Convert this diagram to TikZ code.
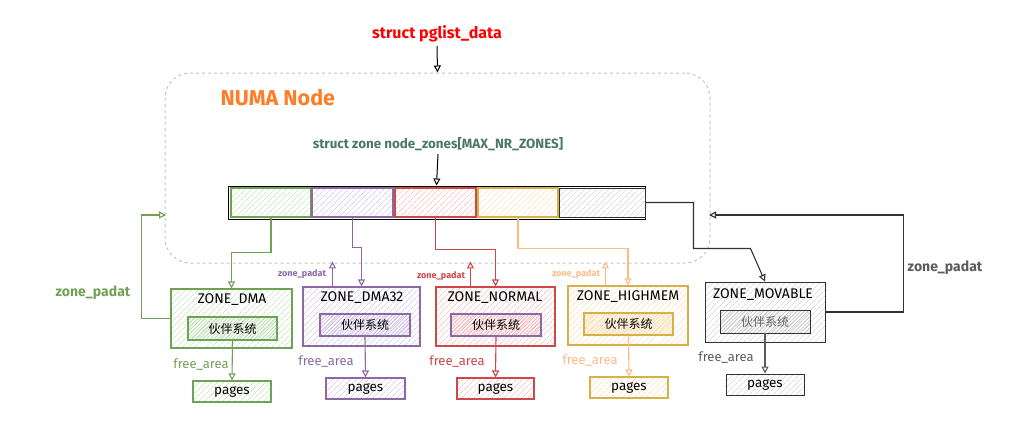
\documentclass[tikz,border=0pt]{standalone}
\usepackage{fontspec}
\setmainfont{Fira Sans}
\newfontfamily\cjk{Noto Sans CJK SC}
\usetikzlibrary{patterns.meta,arrows.meta}
\definecolor{gC}{RGB}{112,162,86}
\definecolor{gF}{RGB}{180,218,165}
\definecolor{pC}{RGB}{140,105,165}
\definecolor{pF}{RGB}{200,182,225}
\definecolor{rC}{RGB}{205,72,72}
\definecolor{rF}{RGB}{245,170,170}
\definecolor{yC}{RGB}{214,176,72}
\definecolor{yF}{RGB}{255,210,150}
\definecolor{oC}{RGB}{255,186,132}
\definecolor{kC}{RGB}{50,50,50}
\definecolor{kF}{RGB}{200,200,200}
\definecolor{tealC}{RGB}{74,120,104}
\definecolor{numaC}{RGB}{255,125,40}
\definecolor{dashC}{RGB}{195,195,195}
\begin{document}
\begin{tikzpicture}[x=1pt,y=-1pt,
  >={Triangle[open,length=7pt,width=7pt]},
  conn/.style={line width=1.1pt,->},
  box/.style 2 args={draw=#1, line width=1.1pt, inner sep=0pt,
    pattern={Lines[angle=45,distance=4pt,line width=0.6pt]}, pattern color=#2},
  dbox/.style 2 args={draw=#1, line width=1.1pt, inner sep=0pt,
    pattern={Lines[angle=45,distance=2.6pt,line width=0.7pt]}, pattern color=#2},
  ztitle/.style={font=\fontsize{14}{16}\selectfont, anchor=center},
  bud/.style={font=\cjk\fontsize{12}{14}\selectfont},
  pgtxt/.style={font=\fontsize{13.5}{15}\selectfont},
  free/.style={font=\fontsize{13}{15}\selectfont},
  spad/.style={font=\bfseries\fontsize{9}{11}\selectfont},
  bpad/.style={font=\bfseries\fontsize{14}{16}\selectfont},
]
\useasboundingbox (0,0) rectangle (1015,439);

% top labels
\node[font=\bfseries\fontsize{16}{18}\selectfont, text=red] (pg) at (437,34) {struct pglist\_data};
\node[draw=dashC, dashed, line width=1pt, rounded corners=25pt, minimum width=545pt, minimum height=190pt, inner sep=0pt] (numa) at (437.5,168) {};
\node[font=\bfseries\fontsize{21.5}{24}\selectfont, text=numaC, anchor=west] (numat) at (217,98) {NUMA Node};
\node[font=\bfseries\fontsize{13.4}{15}\selectfont, text=tealC] (nz) at (438,144) {struct zone node\_zones[MAX\_NR\_ZONES]};

% array bar
\node[draw=black, line width=1pt, minimum width=417pt, minimum height=33pt, inner sep=0pt] (bar) at (436.5,202.5) {};
\node[box={gC}{gF}, minimum width=80pt, minimum height=29pt] (c1) at (271,202.5) {};
\node[box={pC}{pF}, minimum width=81pt, minimum height=29pt] (c2) at (352.5,202.5) {};
\node[box={rC}{rF}, minimum width=81pt, minimum height=29pt] (c3) at (435.5,202.5) {};
\node[box={yC}{yF}, minimum width=80pt, minimum height=29pt] (c4) at (518,202.5) {};
\node[box={kC}{kF}, minimum width=86pt, minimum height=29pt, line width=0.9pt] (c5) at (602,202.5) {};

\draw[line width=1pt,->] (pg.south) -- (numa.north);
\draw[line width=1pt,->] (nz.south) -- (bar.north);

% zone boxes
\node[box={gC}{gF}, minimum width=121pt, minimum height=59pt] (dma) at (231.5,318.5) {};
\node[box={pC}{pF}, minimum width=117pt, minimum height=59pt] (dma32) at (361.5,316.5) {};
\node[box={rC}{rF}, minimum width=119pt, minimum height=59pt] (normal) at (495.5,316.5) {};
\node[box={yC}{yF}, minimum width=120pt, minimum height=59pt] (highmem) at (628,315.5) {};
\node[box={kC}{kF}, minimum width=120pt, minimum height=60pt, line width=0.9pt] (movable) at (765,312) {};

\node[ztitle] (t1) at (232,300) {ZONE\_DMA};
\node[ztitle] (t2) at (362,298) {ZONE\_DMA32};
\node[ztitle] (t3) at (495,298) {ZONE\_NORMAL};
\node[ztitle] (t4) at (628,297) {ZONE\_HIGHMEM};
\node[ztitle] (t5) at (763,295) {ZONE\_MOVABLE};

% buddy boxes
\node[dbox={gC}{gF}, bud, minimum width=89pt, minimum height=23pt] (b1) at (232.5,328.5) {伙伴系统};
\node[dbox={pC}{pF}, bud, minimum width=90pt, minimum height=22pt] (b2) at (365,325) {伙伴系统};
\node[dbox={pC}{rF}, bud, minimum width=90pt, minimum height=22pt] (b3) at (496,325) {伙伴系统};
\node[dbox={yC}{yF}, bud, minimum width=89pt, minimum height=22pt] (b4) at (628.5,324) {伙伴系统};
\node[dbox={kC}{kF}, bud, text=kC!75, line width=0.9pt, minimum width=90pt, minimum height=23pt] (b5) at (765,321.5) {伙伴系统};

% pages
\node[box={gC}{gF}, pgtxt, minimum width=78pt, minimum height=21pt] (p1) at (232,391.5) {pages};
\node[box={pC}{pF}, pgtxt, minimum width=79pt, minimum height=21pt] (p2) at (365.5,388.5) {pages};
\node[box={rC}{rF}, pgtxt, minimum width=77pt, minimum height=21pt] (p3) at (495.5,388.5) {pages};
\node[box={yC}{yF}, pgtxt, minimum width=78pt, minimum height=21pt] (p4) at (629,387.5) {pages};
\node[box={kC}{kF}, pgtxt, line width=0.9pt, minimum width=78pt, minimum height=21pt] (p5) at (765,384.5) {pages};

% free_area
\draw[conn, gC] (b1.south) -- (p1.north);
\draw[conn, pC] (b2.south) -- (p2.north);
\draw[conn, rC] (b3.south) -- (p3.north);
\draw[conn, oC] (b4.south) -- (p4.north);
\draw[conn, kC!80] (b5.south) -- (p5.north);
\node[free, text=gC] (f1) at (201,365) {free\_area};
\node[free, text=pC] (f2) at (326,362) {free\_area};
\node[free, text=rC] (f3) at (457,362) {free\_area};
\node[free, text=oC] (f4) at (590,361) {free\_area};
\node[free, text=kC!80] (f5) at (726,358) {free\_area};

% array to zones
\draw[conn, gC] (c1.south) -- ++(0,35) -| (dma.north);
\draw[conn, pC] (c2.south) -- ++(0,30) -| (dma32.north);
\draw[conn, rC] (c3.south) -- ++(0,32) -| (normal.north);
\draw[conn, oC] (c4.south) -- ++(0,31) -| (highmem.north);
\draw[conn, kC] (bar.east) -- ++(48,0) -- ++(0,46) -- ++(57,0) -- (movable.north);

% zone_padat
\coordinate (padL) at (166,215);
\coordinate (padR) at (709,215);
\draw[conn, gC] (dma.west) -- ++(-29,0) |- (padL);
\draw[conn, kC] (movable.east) -- ++(78,0) |- (padR);
\draw[conn, pC] ([xshift=30pt]dma32.north west) -- ++(0,-25);
\draw[conn, rC] ([xshift=35pt]normal.north west) -- ++(0,-25);
\draw[conn, oC] ([xshift=38pt]highmem.north west) -- ++(0,-24);
\node[bpad, text=gC] (z1) at (93,293) {zone\_padat};
\node[bpad, text=kC!80] (z5) at (945,268) {zone\_padat};
\node[spad, text=pC] (z2) at (302,274) {zone\_padat};
\node[spad, text=rC] (z3) at (441,276) {zone\_padat};
\node[spad, text=oC] (z4) at (576,274) {zone\_padat};
\end{tikzpicture}
\end{document}
